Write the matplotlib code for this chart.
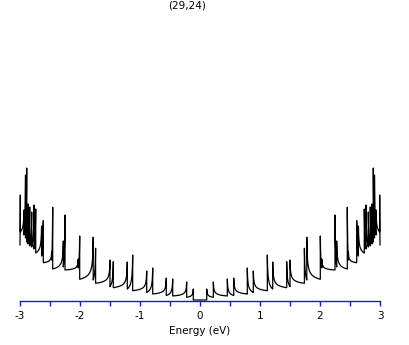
import numpy as np
import matplotlib.pyplot as plt

title = "(29,24)"
xlabel = "Energy (eV)"

# van Hove peaks for E > 0 (the curve is mirrored for E < 0)
peak_energy = [0.112, 0.222, 0.455, 0.562, 0.788, 0.888, 1.122, 1.212, 1.445, 1.500,
               1.740, 1.780, 2.005, 2.030, 2.250, 2.278, 2.455, 2.472, 2.612, 2.640,
               2.738, 2.767, 2.805, 2.838, 2.867, 2.888, 2.908, 2.933, 2.995]
peak_top = [1.1, 1.8, 2.1, 2.2, 3.2, 2.9, 4.5, 3.8, 3.83, 4.0,
            5.17, 6.27, 6.4, 4.1, 8.5, 5.9, 9.27, 4.8, 7.93, 7.4,
            9.1, 9.5, 8.8, 9.3, 9.6, 13.2, 12.5, 9.0, 10.5]
# level the curve has fallen to just before the next peak
floor_level = [0.27, 0.4, 0.45, 0.6, 0.75, 0.93, 1.1, 1.23, 1.35, 1.67,
               2.0, 2.07, 3.2, 3.0, 3.3, 3.1, 4.0, 3.73, 4.4, 4.7,
               5.1, 5.3, 5.4, 5.6, 5.8, 6.2, 6.5, 6.8, 5.5]
e_max = 3.0


def build_curve():
    e = [0.0]
    d = [0.0]
    prev = 0.0
    w = 0.005
    for i in range(len(peak_energy)):
        e0 = peak_energy[i]
        e1 = peak_energy[i + 1] if i + 1 < len(peak_energy) else e_max
        span = e1 - e0
        x = np.linspace(0, span, 40)
        g = np.sqrt(w / (x + w))
        gend = np.sqrt(w / (span + w))
        f = (g - gend) / (1 - gend)
        lvl = floor_level[i] + (peak_top[i] - floor_level[i]) * f
        e += [e0] + list(e0 + x)
        d += [prev] + list(lvl)
        prev = floor_level[i]
    return np.array(e), np.array(d)


e_pos, d_pos = build_curve()
energy = np.concatenate([-e_pos[::-1], e_pos])
dos = np.concatenate([d_pos[::-1], d_pos])

axis_blue = '#1a1acc'

fig = plt.figure(figsize=(4.09, 3.45), dpi=100)
ax = fig.add_axes([20 / 409, 44 / 345, 360 / 409, 286 / 345])
ax.plot(energy, dos, color='black', lw=0.9, clip_on=False)

ax.set_xlim(-3, 3)
ax.set_ylim(-0.1, 28.5)
for s in ['left', 'right', 'top']:
    ax.spines[s].set_visible(False)
ax.spines['bottom'].set_color(axis_blue)
ax.spines['bottom'].set_linewidth(1.0)
ax.set_yticks([])
ticks = np.arange(-3, 3.01, 0.5)
ax.set_xticks(ticks)
ax.set_xticklabels(['%d' % t if float(t).is_integer() else '' for t in ticks])
ax.tick_params(axis='x', direction='out', length=3.6, width=1.0, color=axis_blue,
               labelsize=7.5, labelcolor='black', pad=3.5)

fig.text(187 / 409, 1 - 6 / 345, title, ha='center', va='center', fontsize=7.5)
fig.text(200 / 409, 1 - 331 / 345, xlabel, ha='center', va='center', fontsize=7.5)

fig.savefig('out.png', dpi=100)
